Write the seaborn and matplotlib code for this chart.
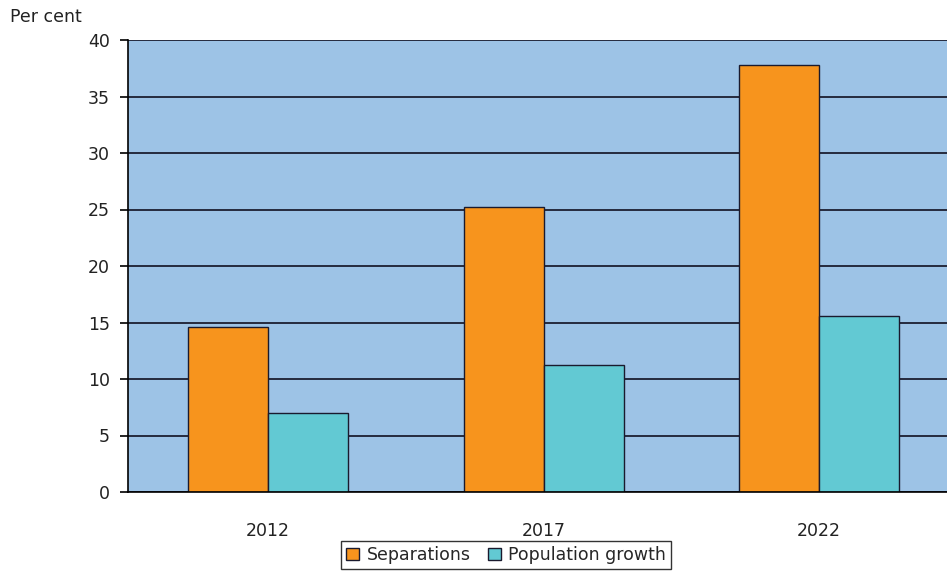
import pandas as pd
import matplotlib.pyplot as plt
import seaborn as sns

years = ['2012', '2017', '2022']
separations = [14.6, 25.2, 37.8]
population_growth = [7.0, 11.2, 15.6]
series_names = ['Separations', 'Population growth']
colors = ['#F7941D', '#62C9D3']

df = pd.DataFrame({
    'Year': years * 2,
    'Series': [series_names[0]] * 3 + [series_names[1]] * 3,
    'Value': separations + population_growth,
})

sns.set_style('white')
plt.rcParams['font.family'] = ['DejaVu Sans']

fig = plt.figure(figsize=(9.47, 5.74), dpi=100)
# axes run a little past the right edge of the picture, as in the original
ax = fig.add_axes([128 / 947, 82 / 574, 829 / 947, 452 / 574])
ax.set_facecolor('#9DC3E6')

sns.barplot(data=df, x='Year', y='Value', hue='Series', palette=colors,
            width=0.58, gap=0, edgecolor='#1a1a2e', linewidth=1.0,
            saturation=1, ax=ax, legend=True)

ax.set_ylim(0, 40)
ax.set_xlim(-0.508, 2.5)
ax.set_yticks(range(0, 41, 5))
ax.yaxis.grid(True, color='#111122', linewidth=1.2)
ax.set_axisbelow(True)
for side in ['top', 'right']:
    ax.spines[side].set_visible(False)
for side in ['left', 'bottom']:
    ax.spines[side].set_color('black')
    ax.spines[side].set_linewidth(1.2)
fs = 12.5
ax.tick_params(axis='y', left=True, length=6, width=1.2, color='black',
               labelsize=fs, pad=7, labelcolor='#222222')
ax.tick_params(axis='x', bottom=False, labelsize=fs, pad=18,
               labelcolor='#222222')
ax.set_xlabel('')
ax.set_ylabel('')
fig.text(10 / 947, 1 - 17 / 574, 'Per cent', fontsize=fs, color='#222222',
         va='center', ha='left')

ax.legend(loc='upper center', bbox_to_anchor=(0.456, -0.108),
          ncol=2, frameon=True, fancybox=False, edgecolor='black',
          fontsize=fs, handlelength=0.75, handleheight=0.75,
          handletextpad=0.4, columnspacing=1.0, borderpad=0.3,
          borderaxespad=0)
leg = ax.get_legend()
leg.get_frame().set_linewidth(1.0)

fig.savefig('out.png', dpi=100)
